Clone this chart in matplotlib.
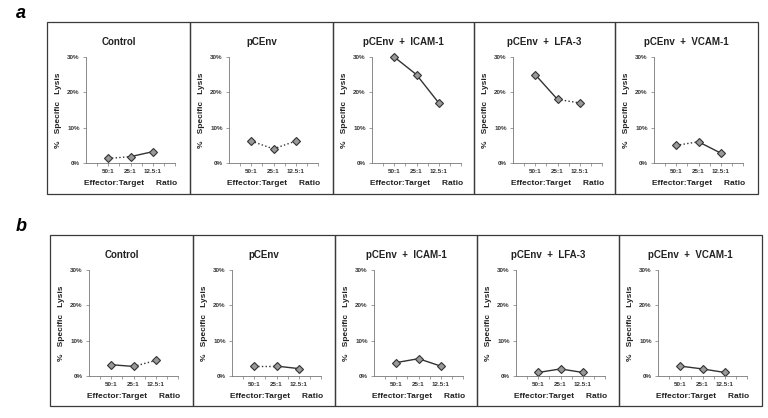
import matplotlib
matplotlib.use("Agg")
import matplotlib.pyplot as plt
from matplotlib.patches import Rectangle

# data (% specific lysis)
ratios = ["50:1", "25:1", "12.5:1"]
titles = ["Control", "pCEnv", "pCEnv  +  ICAM-1", "pCEnv  +  LFA-3", "pCEnv  +  VCAM-1"]
lyse_a = [
    [1.3, 1.8, 3.2],
    [6.2, 4.0, 6.2],
    [30.0, 25.0, 17.0],
    [25.0, 18.0, 17.0],
    [5.0, 6.0, 2.8],
]
lyse_b = [
    [3.2, 2.7, 4.4],
    [2.8, 2.8, 2.1],
    [3.8, 4.9, 2.8],
    [1.0, 2.0, 1.0],
    [2.8, 2.0, 1.0],
]
y_ticks = [0, 10, 20, 30]

# segment line styles (first, second) per panel
gaya_a = [(":", "-"), (":", ":"), ("-", "-"), ("-", ":"), (":", "-")]
gaya_b = [("-", ":"), (":", "-"), ("-", "-"), ("-", "-"), ("-", "-")]

W, H = 768, 418
plt.rcParams.update({"font.family": ["Liberation Sans", "DejaVu Sans"], "font.weight": "bold"})
fig = plt.figure(figsize=(W / 100, H / 100), dpi=100)
fig.patch.set_facecolor("white")


def kotak(x0, y0, x1, y1):
    # pixel box (top-left origin) -> figure fraction rect
    return [x0 / W, 1 - y1 / H, (x1 - x0) / W, (y1 - y0) / H]


def baris(tepi, atas, bawah, data, gaya):
    for i in range(5):
        kiri, kanan = tepi[i], tepi[i + 1]
        fig.patches.append(Rectangle((kiri / W, 1 - bawah / H), (kanan - kiri) / W, (bawah - atas) / H,
                                     transform=fig.transFigure, fill=False, lw=0.9, ec="#3a3a3a"))
        fig.text((kiri + kanan) / 2 / W, 1 - (atas + 20) / H, titles[i], ha="center", va="center",
                 fontsize=7, fontweight="bold", color="#222222")
        ax = fig.add_axes(kotak(kiri + 39, atas + 35, kiri + 128, atas + 141))
        ax.set_xlim(0, 4)
        ax.set_ylim(0, 30)
        for s in ["top", "right"]:
            ax.spines[s].set_visible(False)
        for s in ["left", "bottom"]:
            ax.spines[s].set_linewidth(0.6)
            ax.spines[s].set_color("#777777")
        ax.set_yticks(y_ticks)
        ax.set_yticklabels([f"{v}%" for v in y_ticks])
        ax.set_xticks([1, 2, 3])
        ax.set_xticklabels(ratios)
        ax.set_xticks([0.5, 1.5, 2.5, 3.5, 4], minor=True)
        ax.tick_params(axis="both", which="both", labelsize=4.5, length=2, width=0.5, color="#777777",
                       pad=2.5, labelcolor="#333333")
        ax.set_ylabel("%   Specific   Lysis", fontsize=6, fontweight="bold", labelpad=4, color="#222222")
        ax.set_xlabel("Effector:Target     Ratio", fontsize=6, fontweight="bold", labelpad=4, color="#222222")
        ax.patch.set_alpha(0)
        xs = [1, 2, 3]
        ys = data[i]
        for k in range(2):
            ax.plot(xs[k:k + 2], ys[k:k + 2], ls=gaya[i][k], color="#333333", lw=1.0, clip_on=False)
        ax.plot(xs, ys, ls="none", marker="D", ms=4, mfc="#999999", mec="#333333", mew=0.8, clip_on=False)


baris([47, 190, 333, 474, 615, 758], 22, 194, lyse_a, gaya_a)
baris([50, 193, 335, 477, 619, 762], 235, 406, lyse_b, gaya_b)

fig.text(16 / W, 1 - 13 / H, "a", fontsize=13, fontweight="bold", style="italic", va="center")
fig.text(16 / W, 1 - 226 / H, "b", fontsize=13, fontweight="bold", style="italic", va="center")

fig.savefig("out.png", dpi=100)
